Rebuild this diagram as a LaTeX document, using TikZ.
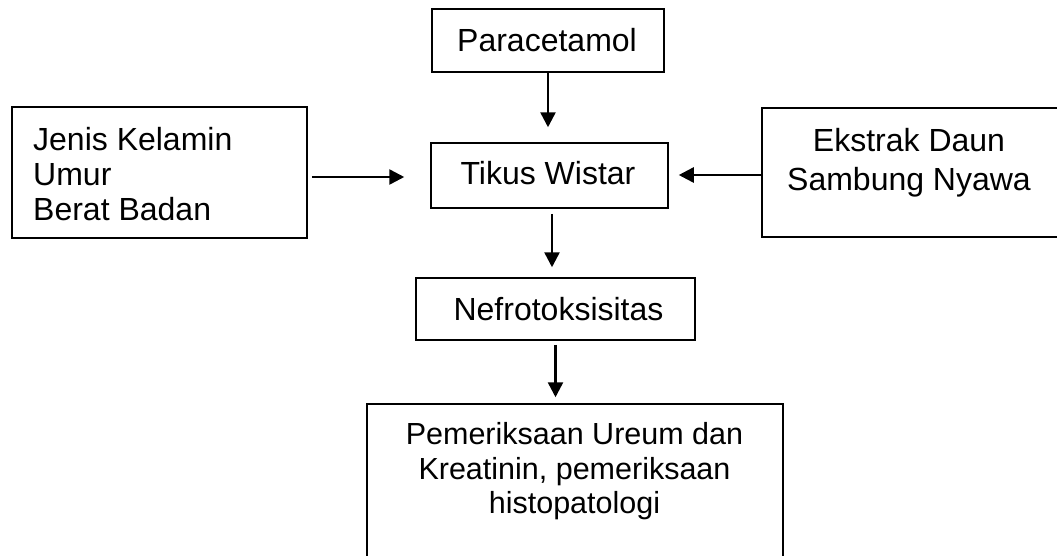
\documentclass[tikz,border=0pt]{standalone}
\usepackage{fontspec}
\setmainfont{Liberation Sans}
\usetikzlibrary{arrows.meta}
\begin{document}
\begin{tikzpicture}[x=1pt,y=-1pt,
  box/.style={draw, line width=1.5pt, inner sep=0pt},
  txt/.style={inner sep=0pt, font=\fontsize{32}{35}\selectfont},
  txtsm/.style={inner sep=0pt, font=\fontsize{30.5}{35}\selectfont},
  arr/.style={line width=2.5pt, -{Triangle[length=15pt,width=15pt]}}]
\useasboundingbox (0,0) rectangle (1057,555);
\clip (0,0) rectangle (1057,555);
% boxes
\node[box, minimum width=232pt, minimum height=63pt] (par) at (548,40.5) {};
\node[box, minimum width=237pt, minimum height=65pt] (tik) at (549.5,175.5) {};
\node[box, minimum width=279pt, minimum height=62pt] (nef) at (555.5,309) {};
\node[box, minimum width=295pt, minimum height=131pt] (lft) at (159.5,172.5) {};
\node[box, minimum width=297pt, minimum height=129pt] (rgt) at (910.5,172.5) {};
\node[box, minimum width=416pt, minimum height=166pt] (bot) at (575,487) {};
% texts
\node[txt, anchor=base] (tpar) at (547,51.5) {Paracetamol};
\node[txt, anchor=base] (ttik) at (548,184.5) {Tikus Wistar};
\node[txt, anchor=base] (tnef) at (558.5,320.5) {Nefrotoksisitas};
\node[txt, anchor=base west] (tl1) at (33,150.5) {Jenis Kelamin};
\node[txt, anchor=base west] (tl2) at (33,185.5) {Umur};
\node[txt, anchor=base west] (tl3) at (33,220.5) {Berat Badan};
\node[txt, anchor=base] (tr1) at (909,151.5) {Ekstrak Daun};
\node[txt, anchor=base] (tr2) at (909,190.5) {Sambung Nyawa};
\node[txtsm, anchor=base] (tb1) at (574.5,444) {Pemeriksaan Ureum dan};
\node[txtsm, anchor=base] (tb2) at (574.5,479) {Kreatinin, pemeriksaan};
\node[txtsm, anchor=base] (tb3) at (574.5,513) {histopatologi};
% connectors
\draw[arr, shorten >=15pt] (par.south) -- (par.south |- tik.north);
\draw[arr, shorten <=5pt, shorten >=10pt] ([xshift=2.5pt]tik.south) -- ([xshift=2.5pt]tik.south |- nef.north);
\draw[arr, shorten <=4pt, shorten >=6pt] (nef.south) -- (nef.south |- bot.north);
\draw[arr, shorten <=4pt, shorten >=26pt] ([yshift=-4.5pt]lft.east) -- ([yshift=-4.5pt]lft.east -| tik.west);
\draw[arr, shorten >=10pt] ([yshift=-2.5pt]rgt.west) -- ([yshift=-2.5pt]rgt.west -| tik.east);
\end{tikzpicture}
\end{document}
